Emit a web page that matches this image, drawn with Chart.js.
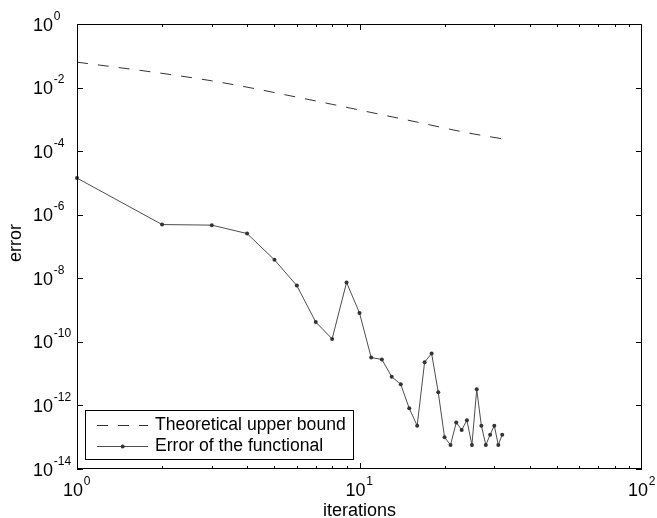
<!DOCTYPE html>
<html>
<head>
<meta charset="utf-8">
<script src="https://cdn.jsdelivr.net/npm/chart.js@4.4.1/dist/chart.umd.min.js"></script>
<style>
  html, body { margin: 0; padding: 0; background: #fff; }
</style>
</head>
<body>
<canvas id="errChart" width="657" height="518"></canvas>
<script>
// error of the functional, one value per iteration
const iterations = [1, 2, 3, 4, 5, 6, 7, 8, 9, 10, 11, 12, 13, 14, 15, 16,
  17, 18, 19, 20, 21, 22, 23, 24, 25, 26, 27, 28, 29, 30, 31, 32];
const errorValues = [1.42e-5, 4.9e-7, 4.7e-7, 2.55e-7, 3.8e-8, 5.9e-9, 4.2e-10, 1.24e-10,
  7.4e-9, 8.1e-10, 3.2e-11, 2.8e-11, 8.0e-12, 4.6e-12, 8.1e-13, 2.3e-13,
  2.3e-11, 4.3e-11, 2.6e-12, 1.0e-13, 5.7e-14, 2.9e-13, 1.7e-13, 3.4e-13,
  5.7e-14, 3.2e-12, 2.3e-13, 5.7e-14, 1.2e-13, 2.3e-13, 5.7e-14, 1.2e-13];

// theoretical upper bound (read at a few iterations)
const boundIterations = [1, 2, 3, 4, 6, 8, 12, 16, 24, 32];
const boundValues = [6.3e-2, 2.8e-2, 1.63e-2, 1.03e-2, 5.0e-3, 2.97e-3, 1.40e-3, 8.2e-4, 3.8e-4, 2.45e-4];

const seriesLabels = ["Theoretical upper bound", "Error of the functional"];
const xTickExponents = [0, 1, 2];
const yTickExponents = [0, -2, -4, -6, -8, -10, -12, -14];
const xTitle = "iterations";
const yTitle = "error";

const FONT = '"Liberation Sans", Arial, Helvetica, sans-serif';

function drawPower(ctx, x, yBase, exp, alignRight) {
  // "10" plus raised exponent
  ctx.font = "18px " + FONT;
  ctx.textAlign = "right";
  ctx.textBaseline = "alphabetic";
  ctx.fillText("10", x, yBase);
  ctx.font = "12px " + FONT;
  ctx.textAlign = "left";
  ctx.fillText(String(exp), x + 0.8, yBase - 11);
}

const matlabAxes = {
  id: "matlabAxes",
  afterDraw(chart) {
    const ctx = chart.ctx;
    const a = chart.chartArea;
    const xs = chart.scales.x, ys = chart.scales.y;
    ctx.save();
    ctx.strokeStyle = "#000";
    ctx.fillStyle = "#000";
    ctx.lineWidth = 1;
    ctx.setLineDash([]);

    // frame
    ctx.strokeRect(a.left + 0.5, a.top + 0.5, a.right - a.left - 1, a.bottom - a.top - 1);

    // x ticks (inward, top and bottom)
    ctx.beginPath();
    for (let d = 0; d < 2; d++) {
      for (let m = 1; m <= 9; m++) {
        const px = Math.round(xs.getPixelForValue(m * Math.pow(10, d))) + 0.5;
        const len = m === 1 ? 6 : 3;
        ctx.moveTo(px, a.bottom); ctx.lineTo(px, a.bottom - len);
        ctx.moveTo(px, a.top); ctx.lineTo(px, a.top + len);
      }
    }
    // y ticks (left and right)
    yTickExponents.forEach(e => {
      const py = Math.round(ys.getPixelForValue(Math.pow(10, e))) + 0.5;
      ctx.moveTo(a.left, py); ctx.lineTo(a.left + 6, py);
      ctx.moveTo(a.right, py); ctx.lineTo(a.right - 6, py);
    });
    ctx.stroke();

    // tick labels
    yTickExponents.forEach(e => {
      const py = ys.getPixelForValue(Math.pow(10, e));
      drawPower(ctx, 53, py + 6.5, e);
    });
    xTickExponents.forEach(e => {
      const px = xs.getPixelForValue(Math.pow(10, e));
      drawPower(ctx, px + 6, 496, e);
    });

    // axis titles
    ctx.font = "18px " + FONT;
    ctx.textAlign = "center";
    ctx.textBaseline = "alphabetic";
    ctx.fillText(xTitle, (a.left + a.right) / 2, 516);
    ctx.save();
    ctx.translate(21, 243);
    ctx.rotate(-Math.PI / 2);
    ctx.fillText(yTitle, 0, 0);
    ctx.restore();

    // legend box, lower left
    const bx = 85.5, by = 410.5, bw = 268, bh = 49;
    ctx.fillStyle = "#fff";
    ctx.fillRect(bx, by, bw, bh);
    ctx.strokeStyle = "#000";
    ctx.strokeRect(bx, by, bw, bh);
    const rows = [425, 446];
    chart.data.datasets.forEach((ds, i) => {
      const ry = rows[i] + 0.5;
      ctx.strokeStyle = ds.borderColor;
      ctx.lineWidth = ds.borderWidth;
      ctx.setLineDash(ds.borderDash || []);
      ctx.beginPath();
      ctx.moveTo(97, ry); ctx.lineTo(148, ry);
      ctx.stroke();
      ctx.setLineDash([]);
      if (ds.pointRadius > 0) {
        ctx.fillStyle = ds.pointBackgroundColor;
        ctx.beginPath();
        ctx.arc(122.7, ry, ds.pointRadius, 0, Math.PI * 2);
        ctx.fill();
      }
      ctx.fillStyle = "#000";
      ctx.font = "17.6px " + FONT;
      ctx.textAlign = "left";
      ctx.textBaseline = "middle";
      ctx.fillText(ds.label, 155, rows[i] + 0.5);
    });
    ctx.restore();
  }
};

new Chart(document.getElementById("errChart"), {
  type: "line",
  data: {
    datasets: [
      {
        label: seriesLabels[0],
        data: boundIterations.map((k, i) => ({ x: k, y: boundValues[i] })),
        borderColor: "#333",
        borderWidth: 1,
        borderDash: [11, 10],
        pointRadius: 0,
        cubicInterpolationMode: "monotone",
        clip: false
      },
      {
        label: seriesLabels[1],
        data: iterations.map((k, i) => ({ x: k, y: errorValues[i] })),
        borderColor: "#4d4d4d",
        borderWidth: 1,
        pointRadius: 2,
        pointBorderWidth: 0,
        pointBackgroundColor: "#333",
        tension: 0,
        clip: false
      }
    ]
  },
  options: {
    responsive: false,
    animation: false,
    devicePixelRatio: 1,
    layout: { padding: { left: 77, right: 15, top: 24, bottom: 49 } },
    scales: {
      x: { type: "logarithmic", min: 1, max: 100, display: false },
      y: { type: "logarithmic", min: 1e-14, max: 1, display: false }
    },
    plugins: {
      legend: { display: false },
      tooltip: { enabled: false }
    }
  },
  plugins: [matlabAxes]
});
</script>
</body>
</html>
